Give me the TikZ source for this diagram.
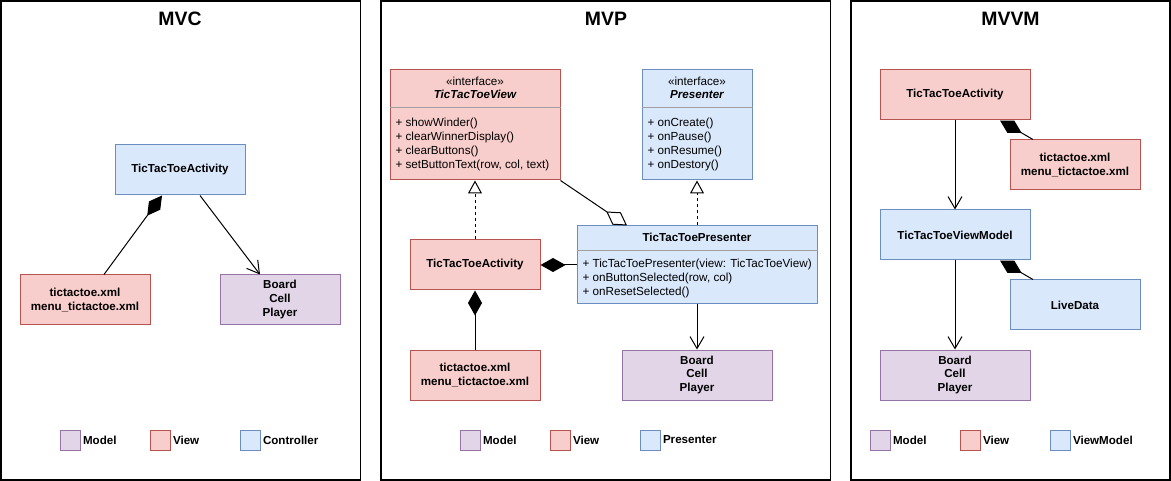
\documentclass[tikz,border=0pt]{standalone}
\usepackage{fontspec}
\setmainfont{Liberation Sans}
\usepackage{xcolor}
\usepackage{tikz}
\usetikzlibrary{arrows.meta,positioning}
\definecolor{viewfill}{HTML}{F8CECC}
\definecolor{viewline}{HTML}{B85450}
\definecolor{ctrlfill}{HTML}{DAE8FC}
\definecolor{ctrlline}{HTML}{6C8EBF}
\definecolor{modelfill}{HTML}{E1D5E7}
\definecolor{modelline}{HTML}{9673A6}
\definecolor{sepline}{HTML}{A0A0A0}

\tikzset{
    box/.style={draw, rectangle, inner sep=0pt, minimum height=50pt, align=center,
        font=\fontsize{11.6}{14}\selectfont\bfseries},
    viewbox/.style={box, draw=viewline, fill=viewfill},
    ctrlbox/.style={box, draw=ctrlline, fill=ctrlfill},
    modelbox/.style={box, draw=modelline, fill=modelfill},
    panel/.style={draw=black, line width=1.6pt},
    title/.style={inner sep=0pt, font=\fontsize{19.4}{22}\selectfont\bfseries},
    key/.style={draw, rectangle, minimum size=20pt, inner sep=0pt},
    keytext/.style={inner sep=0pt, font=\fontsize{11.6}{14}\selectfont\bfseries},
    stereo/.style={inner sep=0pt, font=\fontsize{11.7}{14}\selectfont},
    classname/.style={inner sep=0pt, font=\fontsize{11.6}{14}\selectfont\bfseries},
    methods/.style={inner sep=0pt, anchor=north west, align=left,
        font=\fontsize{11.7}{14}\selectfont},
    sep/.style={draw=sepline},
    compose/.style={-{Diamond[length=25pt,width=14pt]}},
    aggregate/.style={-{Diamond[open,length=25pt,width=15pt,fill=white]}},
    realize/.style={dash pattern=on 3pt off 3pt, -{Triangle[open,length=13pt,width=14pt,fill=white]}},
    uses/.style={-{Straight Barb[length=12pt,width=14pt]}}
}

\begin{document}
\begin{tikzpicture}[x=1pt, y=-1pt, line width=1pt]
            \useasboundingbox (0,0) rectangle (1171,481);

            % Panels
            \draw[panel] (1,1) rectangle (360.5,480);
            \draw[panel] (381,1) rectangle (830.5,480);
            \draw[panel] (851,1) rectangle (1170,480);

            % MVC
            \node[title] (mvcTitle) at (180,19) {MVC};
            \node[ctrlbox, minimum width=130pt] (mvcAct) at (180,170) {TicTacToeActivity};
            \node[viewbox, minimum width=130pt] (mvcXml) at (85,300) {tictactoe.xml\\menu\_tictactoe.xml};
            \node[modelbox, minimum width=120pt] (mvcModel) at (280,300) {Board\\Cell\\Player};
            \draw[compose] ([xshift=19pt]mvcXml.north) -- ([xshift=-18pt]mvcAct.south);
            \draw[uses] ([xshift=20pt]mvcAct.south) -- ([xshift=-20pt]mvcModel.north);

            \node[key, draw=modelline, fill=modelfill] (mvcKeyModel) at (70,440) {};
            \node[keytext, right=2pt of mvcKeyModel] (mvcKeyModelText) {Model};
            \node[key, draw=viewline, fill=viewfill] (mvcKeyView) at (160,440) {};
            \node[keytext, right=2pt of mvcKeyView] (mvcKeyViewText) {View};
            \node[key, draw=ctrlline, fill=ctrlfill] (mvcKeyCtrl) at (250,440) {};
            \node[keytext, right=2pt of mvcKeyCtrl] (mvcKeyCtrlText) {Controller};

            % MVP
            \node[title] (mvpTitle) at (606,19) {MVP};
            \node[viewbox, minimum width=170pt, minimum height=110pt] (mvpView) at (475,125) {};
            \node[stereo] (mvpViewStereo) at (475,81.7) {«interface»};
            \node[classname] (mvpViewName) at (475,94.5) {\itshape TicTacToeView};
            \draw[sep] (mvpView.west |- 0,108) -- (mvpView.east |- 0,108);
            \node[methods] (mvpViewOps) at (395,117.5) {+ showWinder()\\+ clearWinnerDisplay()\\+ clearButtons()\\+ setButtonText(row, col, text)};

            \node[ctrlbox, minimum width=110pt, minimum height=110pt] (mvpIPres) at (697,125) {};
            \node[stereo] (mvpIPresStereo) at (697,81.7) {«interface»};
            \node[classname] (mvpIPresName) at (697,94.5) {\itshape Presenter};
            \draw[sep] (mvpIPres.west |- 0,108) -- (mvpIPres.east |- 0,108);
            \node[methods] (mvpIPresOps) at (647,117.5) {+ onCreate()\\+ onPause()\\+ onResume()\\+ onDestory()};

            \node[viewbox, minimum width=130pt] (mvpAct) at (475,265) {TicTacToeActivity};
            \node[ctrlbox, minimum width=240pt, minimum height=78pt] (mvpPres) at (697,265) {};
            \node[classname] (mvpPresName) at (697,237) {TicTacToePresenter};
            \draw[sep] (mvpPres.west |- 0,250.5) -- (mvpPres.east |- 0,250.5);
            \node[methods] (mvpPresOps) at (582,259) {+ TicTacToePresenter(view: TicTacToeView)\\+ onButtonSelected(row, col)\\+ onResetSelected()};

            \node[viewbox, minimum width=130pt] (mvpXml) at (475,375) {tictactoe.xml\\menu\_tictactoe.xml};
            \node[modelbox, minimum width=150pt] (mvpModel) at (697,375) {Board\\Cell\\Player};

            \draw[realize] (mvpAct.north) -- (mvpView.south);
            \draw[realize] (mvpPres.north) -- (mvpIPres.south);
            \draw[aggregate] (mvpView.south east) -- ([xshift=-70pt]mvpPres.north);
            \draw[compose] (mvpPres.west) -- (mvpAct.east);
            \draw[compose] (mvpXml.north) -- (mvpAct.south);
            \draw[uses] (mvpPres.south) -- (mvpModel.north);

            \node[key, draw=modelline, fill=modelfill] (mvpKeyModel) at (470,440) {};
            \node[keytext, right=2pt of mvpKeyModel] (mvpKeyModelText) {Model};
            \node[key, draw=viewline, fill=viewfill] (mvpKeyView) at (560,440) {};
            \node[keytext, right=2pt of mvpKeyView] (mvpKeyViewText) {View};
            \node[key, draw=ctrlline, fill=ctrlfill] (mvpKeyPres) at (650,440) {};
            \node[keytext, right=2pt of mvpKeyPres] (mvpKeyPresText) {Presenter};

            % MVVM
            \node[title] (vmTitle) at (1010.5,19) {MVVM};
            \node[viewbox, minimum width=150pt] (vmAct) at (955,95) {TicTacToeActivity};
            \node[viewbox, minimum width=130pt] (vmXml) at (1075,165) {tictactoe.xml\\menu\_tictactoe.xml};
            \node[ctrlbox, minimum width=150pt] (vmVM) at (955,235) {TicTacToeViewModel};
            \node[ctrlbox, minimum width=130pt] (vmLive) at (1075,305) {LiveData};
            \node[modelbox, minimum width=150pt] (vmModel) at (955,375) {Board\\Cell\\Player};

            \draw[uses] (vmAct.south) -- (vmVM.north);
            \draw[uses] (vmVM.south) -- (vmModel.north);
            \draw[compose] ([xshift=-42pt]vmXml.north) -- ([xshift=45pt]vmAct.south);
            \draw[compose] ([xshift=-42pt]vmLive.north) -- ([xshift=45pt]vmVM.south);

            \node[key, draw=modelline, fill=modelfill] (vmKeyModel) at (880,440) {};
            \node[keytext, right=2pt of vmKeyModel] (vmKeyModelText) {Model};
            \node[key, draw=viewline, fill=viewfill] (vmKeyView) at (970,440) {};
            \node[keytext, right=2pt of vmKeyView] (vmKeyViewText) {View};
            \node[key, draw=ctrlline, fill=ctrlfill] (vmKeyVM) at (1060,440) {};
            \node[keytext, right=2pt of vmKeyVM] (vmKeyVMText) {ViewModel};
        \end{tikzpicture}
\end{document}
